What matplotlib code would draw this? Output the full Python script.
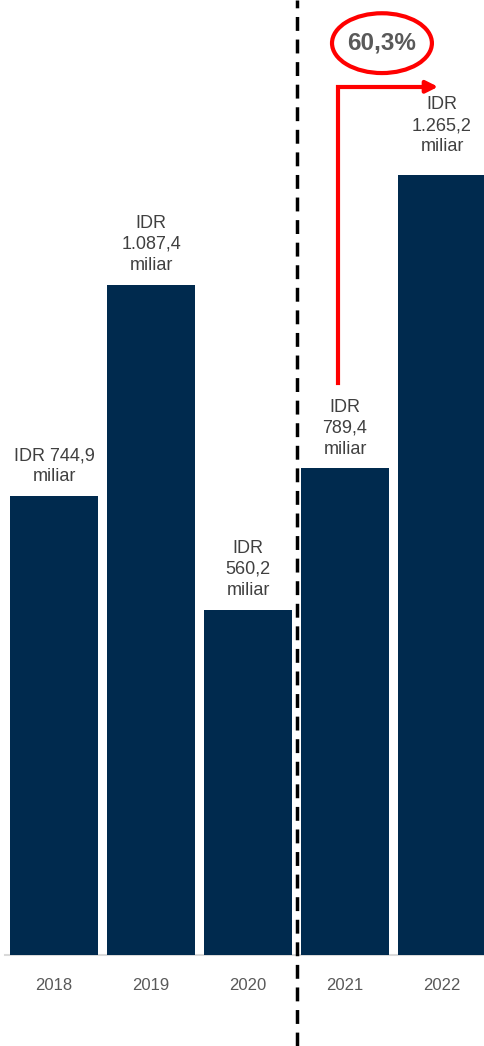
import numpy as np
import matplotlib.pyplot as plt
from matplotlib.patches import Ellipse

plt.rcParams['font.family'] = ['Liberation Sans', 'DejaVu Sans']

years = ['2018', '2019', '2020', '2021', '2022']
values = [744.9, 1087.4, 560.2, 789.4, 1265.2]
labels = ['IDR 744,9\nmiliar', 'IDR\n1.087,4\nmiliar', 'IDR\n560,2\nmiliar',
          'IDR\n789,4\nmiliar', 'IDR\n1.265,2\nmiliar']
growth = '60,3%'

navy = '#002a4e'
gray = '#595959'

fig = plt.figure(figsize=(4.84, 10.46), dpi=100)
ax = fig.add_axes([0, 0, 1, 1])
x = np.arange(len(years))
ax.bar(x, values, width=0.907, color=navy, zorder=2)
ax.set_xlim(-0.557, 4.433)
ax.set_ylim(-147.6, 1549)
ax.axis('off')

# baseline
ax.axhline(0, xmin=0.01, xmax=1, color='#d9d9d9', lw=1.5, zorder=1)

# value labels
for i, (v, lab) in enumerate(zip(values, labels)):
    off = 32 if i == 4 else 17
    ax.text(i, v + off, lab, ha='center', va='bottom', fontsize=13,
            color='#404040', linespacing=1.32)
    ax.text(i, -48.7, years[i], ha='center', va='center', fontsize=12, color=gray)

# dashed separator
ax.axvline(2.5, color='black', lw=2.5, linestyle=(0, (4, 2.5)), zorder=3)

# growth arrow
ax_x = 3 - 0.072
y_start = values[3] + 138
y_top = values[4] + 143
ax.plot([ax_x, ax_x, 3.85], [y_start, y_top, y_top], color='red', lw=3,
        solid_joinstyle='miter', zorder=4)
ax.annotate('', xy=(3.96, y_top), xytext=(3.8, y_top),
            arrowprops=dict(arrowstyle='-|>,head_length=0.7,head_width=0.35',
                            color='red', lw=3, shrinkA=0, shrinkB=0), zorder=4)

ax.add_patch(Ellipse((3.381, 1479), 1.03, 97, fill=False, ec='red', lw=3, zorder=4))
ax.text(3.381, 1479, growth, ha='center', va='center', fontsize=17.5,
        fontweight='bold', color=gray, zorder=5)

fig.savefig('out.png', dpi=100)
